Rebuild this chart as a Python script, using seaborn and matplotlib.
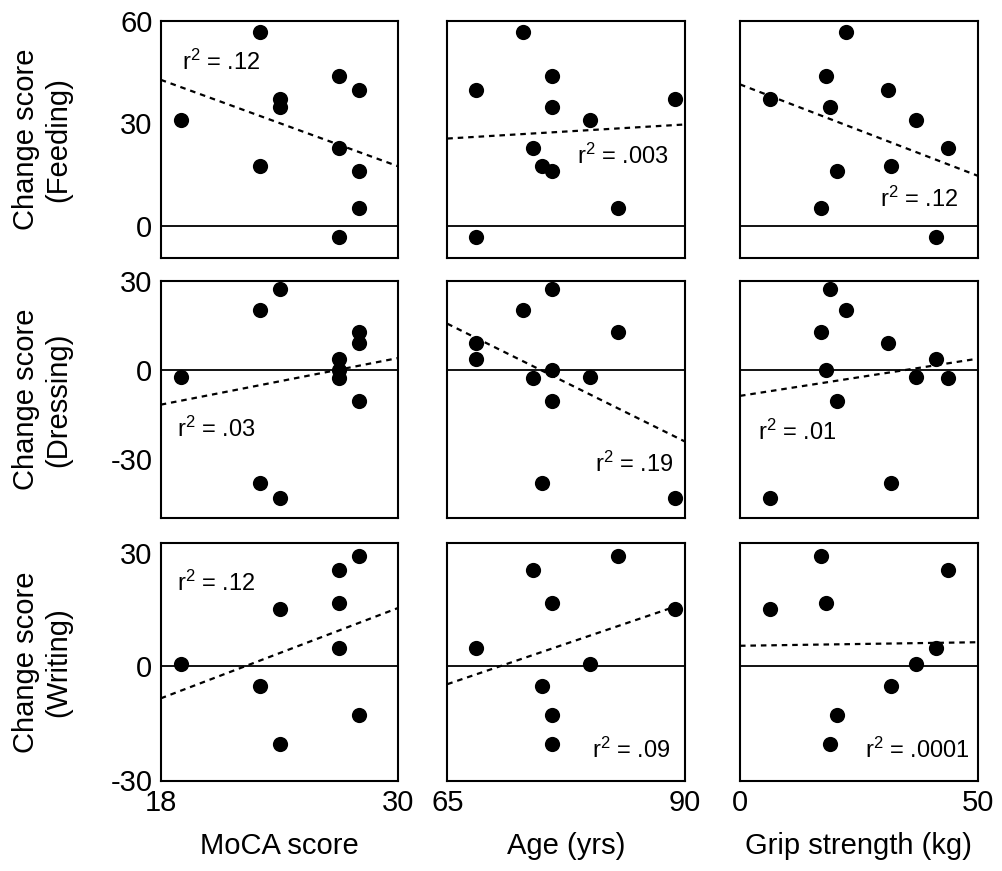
import numpy as np
import pandas as pd
import seaborn as sns
import matplotlib.pyplot as plt

# one value per participant; writing change missing for two of them
moca = [23, 27, 28, 24, 24, 19, 27, 23, 28, 28, 27]
age = [73, 76, 68, 89, 76, 80, 74, 75, 76, 83, 68]
grip = [22.4, 18.0, 31.1, 6.4, 19.0, 37.1, 43.8, 31.8, 20.4, 17.1, 41.2]
feeding = [56.8, 43.8, 39.9, 37.1, 34.7, 30.9, 22.8, 17.5, 16.0, 5.4, -3.2]
dressing = [20.0, 0.0, 8.9, -43.3, 27.3, -2.5, -2.8, -38.2, -10.4, 12.9, 3.8]
writing = [np.nan, 16.6, np.nan, 15.2, -20.6, 0.6, 25.4, -5.2, -12.9, 29.0, 4.8]

x_names = ["MoCA score", "Age (yrs)", "Grip strength (kg)"]
y_names = ["Change score\n(Feeding)", "Change score\n(Dressing)", "Change score\n(Writing)"]
r2_labels = [[".12", ".003", ".12"],
             [".03", ".19", ".01"],
             [".12", ".09", ".0001"]]

df = pd.DataFrame({"moca": moca, "age": age, "grip": grip,
                   "feeding": feeding, "dressing": dressing, "writing": writing})
x_cols = ["moca", "age", "grip"]
y_cols = ["feeding", "dressing", "writing"]

x_lims = [(18, 30), (65, 90), (0, 50)]
y_lims = [(-9.4, 60), (-50, 30), (-30.3, 32.4)]
y_ticks = [[0, 30, 60], [-30, 0, 30], [-30, 0, 30]]

# where the r^2 note sits in each panel (axes fraction)
r2_pos = [[(0.09, 0.826), (0.545, 0.428), (0.59, 0.248)],
          [(0.067, 0.376), (0.622, 0.229), (0.075, 0.362)],
          [(0.067, 0.832), (0.611, 0.13), (0.525, 0.13)]]

sns.set_style("white")
plt.rcParams["font.family"] = ["Liberation Sans", "DejaVu Sans"]
plt.rcParams["text.color"] = "black"
plt.rcParams["xtick.color"] = "black"
plt.rcParams["ytick.color"] = "black"
plt.rcParams["axes.labelcolor"] = "black"
plt.rcParams["axes.unicode_minus"] = False
plt.rcParams["mathtext.fontset"] = "custom"
plt.rcParams["mathtext.rm"] = "Liberation Sans"
plt.rcParams["mathtext.default"] = "regular"

fig = plt.figure(figsize=(10.02, 8.71), dpi=100)
lefts = [0.1604, 0.4464, 0.7385]
bottoms = [0.7034, 0.4049, 0.1033]
w, h = 0.2371, 0.2728

for r in range(3):
    for c in range(3):
        ax = fig.add_axes([lefts[c], bottoms[r], w, h])
        ax.set_xlim(x_lims[c])
        ax.set_ylim(y_lims[r])
        ax.axhline(0, color="black", lw=1.3, zorder=1)
        sns.regplot(data=df, x=x_cols[c], y=y_cols[r], ax=ax, ci=None, truncate=False,
                    scatter_kws=dict(s=120, color="black", linewidths=0, alpha=1, zorder=3),
                    line_kws=dict(color="black", lw=1.6, ls=(0, (2.5, 2.2)), zorder=2))
        ax.set_xlim(x_lims[c])
        ax.set_ylim(y_lims[r])
        ax.set_xlabel("")
        ax.set_ylabel("")
        for s in ax.spines.values():
            s.set_color("black")
            s.set_linewidth(1.5)
        ax.tick_params(length=0, labelsize=21, pad=6)
        if c == 0:
            ax.set_yticks(y_ticks[r])
            ax.set_ylabel(y_names[r], fontsize=21, va="center", linespacing=1.2)
            ax.yaxis.set_label_coords(-0.5, 0.5)
        else:
            ax.set_yticks([])
        if r == 2:
            ax.set_xticks(list(x_lims[c]))
            ax.set_xlabel(x_names[c], fontsize=21)
            ax.xaxis.set_label_coords(0.5, -0.215)
        else:
            ax.set_xticks([])
        tx, ty = r2_pos[r][c]
        ax.text(tx, ty, "r$^2$ = " + r2_labels[r][c], transform=ax.transAxes,
                ha="left", va="center", fontsize=17)

fig.savefig("out.png", dpi=100)
